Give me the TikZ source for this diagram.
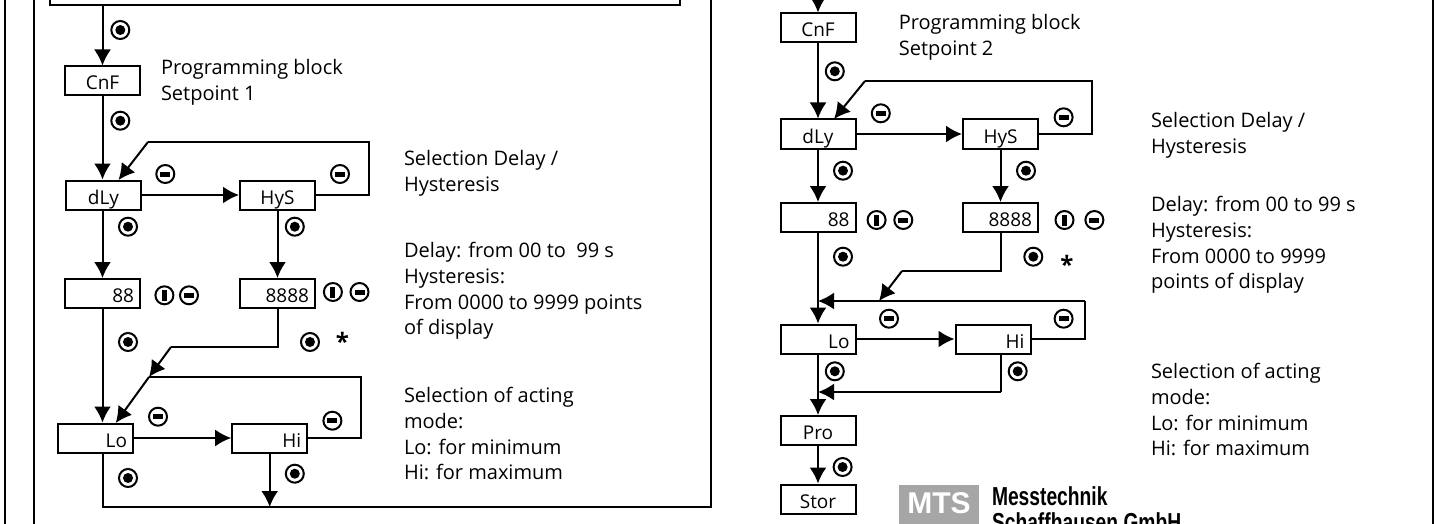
\documentclass[tikz,border=0pt]{standalone}
\usepackage{fontspec}
\setmainfont{Open Sans}
\newfontfamily\logofont[FakeStretch=0.74]{Liberation Sans}
\newfontfamily\mtsfont{Liberation Sans}
\usetikzlibrary{arrows.meta}
\begin{document}
\begin{tikzpicture}[x=1pt,y=-1pt,>={Latex[length=16pt,width=17pt]},line width=2pt,
  valbox/.style={draw,minimum width=75pt,minimum height=29pt,inner sep=0pt,text height=18pt,text depth=0pt,font=\fontsize{19}{22}\selectfont},
  numbox/.style={valbox,text width=63pt,align=right,inner xsep=6pt},
  note/.style={anchor=north west,inner sep=0pt,align=left,font=\fontsize{20}{25.6}\selectfont},
  btn/.style={circle,draw,line width=2pt,minimum size=18pt,inner sep=0pt},
  dotbtn/.style={btn,path picture={\fill (path picture bounding box.center) circle (5pt);}},
  onebtn/.style={btn,path picture={\fill ([xshift=-2.5pt,yshift=-5.5pt]path picture bounding box.center) rectangle ++(5pt,11pt);}},
  minbtn/.style={btn,path picture={\fill ([xshift=-5pt,yshift=-2.5pt]path picture bounding box.center) rectangle ++(10pt,5pt);}}]
  \clip (0,0) rectangle (1437,524);
  \draw (4.6,0) -- (4.6,524);
  \draw (34.4,0) -- (34.4,524);
  \draw (1433,0) -- (1433,524);
  \draw (49.6,0) -- (49.6,5) -- (680.4,5) -- (680.4,0);
  \coordinate (topa) at (102.5,5);
  \coordinate (topb) at (818,-2);
  \node[valbox] (cnfa) at (102.5,81) {CnF};
  \node[valbox] (dlya) at (103.5,195) {dLy};
  \node[valbox] (hysa) at (277.5,195) {HyS};
  \node[numbox] (seta) at (102.5,293.5) {88};
  \node[numbox] (setc) at (277.5,293.5) {8888\hspace*{6pt}};
  \node[numbox] (loa) at (95.5,438) {Lo};
  \node[numbox] (hia) at (269.7,438) {Hi};
  \coordinate (dlytipa) at (118.5,180);
  \coordinate (loopa) at (368.7,195);
  \coordinate (loopb) at (368.7,142);
  \coordinate (loopc) at (148,142);
  \coordinate (benda) at (277.5,347);
  \coordinate (bendb) at (171,347);
  \coordinate (joina) at (149,377);
  \coordinate (lotipa) at (115.7,423);
  \coordinate (loopd) at (361,438);
  \coordinate (loope) at (361,377);
  \coordinate (basea) at (102.5,507);
  \coordinate (baseb) at (711,507);
  \coordinate (basec) at (711,0);
  \draw[->] (topa) -- (cnfa.north);
  \draw[->] (cnfa) -- (cnfa |- dlya.north);
  \draw[->] (dlya) -- (hysa);
  \draw (hysa.east) -- (loopa) -- (loopb) -- (loopc);
  \draw[->] (loopc) -- (dlytipa);
  \draw[->] (dlya.south -| seta) -- (seta);
  \draw[->] (hysa) -- (setc);
  \draw[->] (seta) -- (seta |- loa.north);
  \draw (setc.south) -- (benda) -- (bendb);
  \draw[->] (bendb) -- (joina);
  \draw[->] (joina) -- (lotipa);
  \draw (hia.east) -- (loopd) -- (loope) -- (joina);
  \draw[->] (loa) -- (hia);
  \draw (loa.south -| seta) -- (basea) -- (baseb) -- (basec);
  \draw[->] (hia) -- (hia |- basea);
  \node[dotbtn] (ba) at (120.3,30) {};
  \node[dotbtn] (bb) at (120.3,120.7) {};
  \node[minbtn] (bc) at (165.3,174) {};
  \node[minbtn] (bd) at (340,174) {};
  \node[dotbtn] (be) at (128,226.7) {};
  \node[dotbtn] (bf) at (294.8,226.7) {};
  \node[onebtn] (bg) at (164.4,295.3) {};
  \node[minbtn] (bh) at (189,295.3) {};
  \node[onebtn] (bi) at (332.9,292) {};
  \node[minbtn] (bj) at (359.5,292) {};
  \node[dotbtn] (bk) at (128,342) {};
  \node[dotbtn] (bl) at (310,342) {};
  \node[font=\fontsize{24}{24}\selectfont\bfseries] (stara) at (342.5,341) {*};
  \node[minbtn] (bm) at (158,416.7) {};
  \node[minbtn] (bn) at (332.4,420.7) {};
  \node[dotbtn] (bo) at (128,478) {};
  \node[dotbtn] (bp) at (294.8,473.7) {};
  \node[note] (noa) at (160,58.5) {Programming block\\Setpoint 1};
  \node[note] (nob) at (403,149.5) {Selection Delay /\\Hysteresis};
  \node[note] (noc) at (403,241.5) {Delay: from 00 to~~99 s\\Hysteresis:\\From 0000 to 9999 points\\of display};
  \node[note] (nod) at (403,386.5) {Selection of acting\\mode:\\Lo: for minimum\\Hi: for maximum};
  \node[valbox] (cnfb) at (818,28) {CnF};
  \node[valbox] (dlyb) at (818,134) {dLy};
  \node[valbox] (hysb) at (1000.5,134) {HyS};
  \node[numbox] (setb) at (818,217.5) {88};
  \node[numbox] (setd) at (1000.5,217.5) {8888\hspace*{6pt}};
  \node[numbox] (lob) at (818,339) {Lo};
  \node[numbox] (hib) at (993,339) {Hi};
  \node[valbox] (prob) at (818,430.5) {Pro};
  \node[valbox] (storb) at (818,499) {Stor};
  \coordinate (dlytipb) at (834,119);
  \coordinate (loopf) at (1092,134);
  \coordinate (loopg) at (1092,81);
  \coordinate (looph) at (865,81);
  \coordinate (bendc) at (1000.5,271);
  \coordinate (bendd) at (902,271);
  \coordinate (joinb) at (879,301);
  \coordinate (loopi) at (1085,339);
  \coordinate (loopj) at (1085,301);
  \coordinate (joinc) at (818,301);
  \coordinate (bende) at (1000.5,392);
  \coordinate (joind) at (818,392);
  \draw[->] (topb) -- (cnfb.north);
  \draw[->] (cnfb) -- (dlyb);
  \draw[->] (dlyb) -- (hysb);
  \draw (hysb.east) -- (loopf) -- (loopg) -- (looph);
  \draw[->] (looph) -- (dlytipb);
  \draw[->] (dlyb) -- (setb);
  \draw[->] (hysb) -- (setd);
  \draw[->] (setb) -- (lob);
  \draw (setd.south) -- (bendc) -- (bendd);
  \draw[->] (bendd) -- (joinb);
  \draw (hib.east) -- (loopi) -- (loopj);
  \draw[->] (loopj) -- (joinc);
  \draw[->] (lob) -- (hib);
  \draw[->] (lob) -- (prob);
  \draw (hib.south -| bende) -- (bende);
  \draw[->] (bende) -- (joind);
  \draw[->] (prob) -- (storb);
  \node[dotbtn] (bq) at (834.8,71.3) {};
  \node[minbtn] (br) at (880.8,113.3) {};
  \node[minbtn] (bs) at (1063.6,117.3) {};
  \node[dotbtn] (bt) at (843,170.7) {};
  \node[dotbtn] (bu) at (1026,170.7) {};
  \node[onebtn] (bv) at (876.6,220) {};
  \node[minbtn] (bw) at (903.3,220) {};
  \node[onebtn] (bx) at (1064.5,220) {};
  \node[minbtn] (by) at (1094.4,220) {};
  \node[dotbtn] (bz) at (843,256.7) {};
  \node[dotbtn] (caa) at (1033.3,256.7) {};
  \node[font=\fontsize{24}{24}\selectfont\bfseries] (starb) at (1066.8,264) {*};
  \node[minbtn] (cab) at (889,318.7) {};
  \node[minbtn] (cac) at (1063.6,318.7) {};
  \node[dotbtn] (cad) at (834.8,371.3) {};
  \node[dotbtn] (cae) at (1017.7,371.3) {};
  \node[dotbtn] (caf) at (842.6,467) {};
  \node[note] (noe) at (897.8,13.5) {Programming block\\Setpoint 2};
  \node[note] (nof) at (1150,111.5) {Selection Delay /\\Hysteresis};
  \node[note] (nog) at (1150,195.5) {Delay: from 00 to 99 s\\Hysteresis:\\From 0000 to 9999\\points of display};
  \node[note] (noh) at (1150,362.5) {Selection of acting\\mode:\\Lo: for minimum\\Hi: for maximum};
  \fill[black!35] (899,485) rectangle (979.3,530);
  \node[text=white,font=\fontsize{30}{30}\mtsfont\bfseries,inner sep=0pt] (mtsa) at (939,503.5) {MTS};
  \node[anchor=base west,inner sep=0pt,font=\fontsize{26}{26}\logofont\bfseries] (mesa) at (991,505.7) {Messtechnik};
  \node[anchor=base west,inner sep=0pt,font=\fontsize{26}{26}\logofont\bfseries] (scha) at (991,531) {Schaffhausen GmbH};
\end{tikzpicture}
\end{document}
